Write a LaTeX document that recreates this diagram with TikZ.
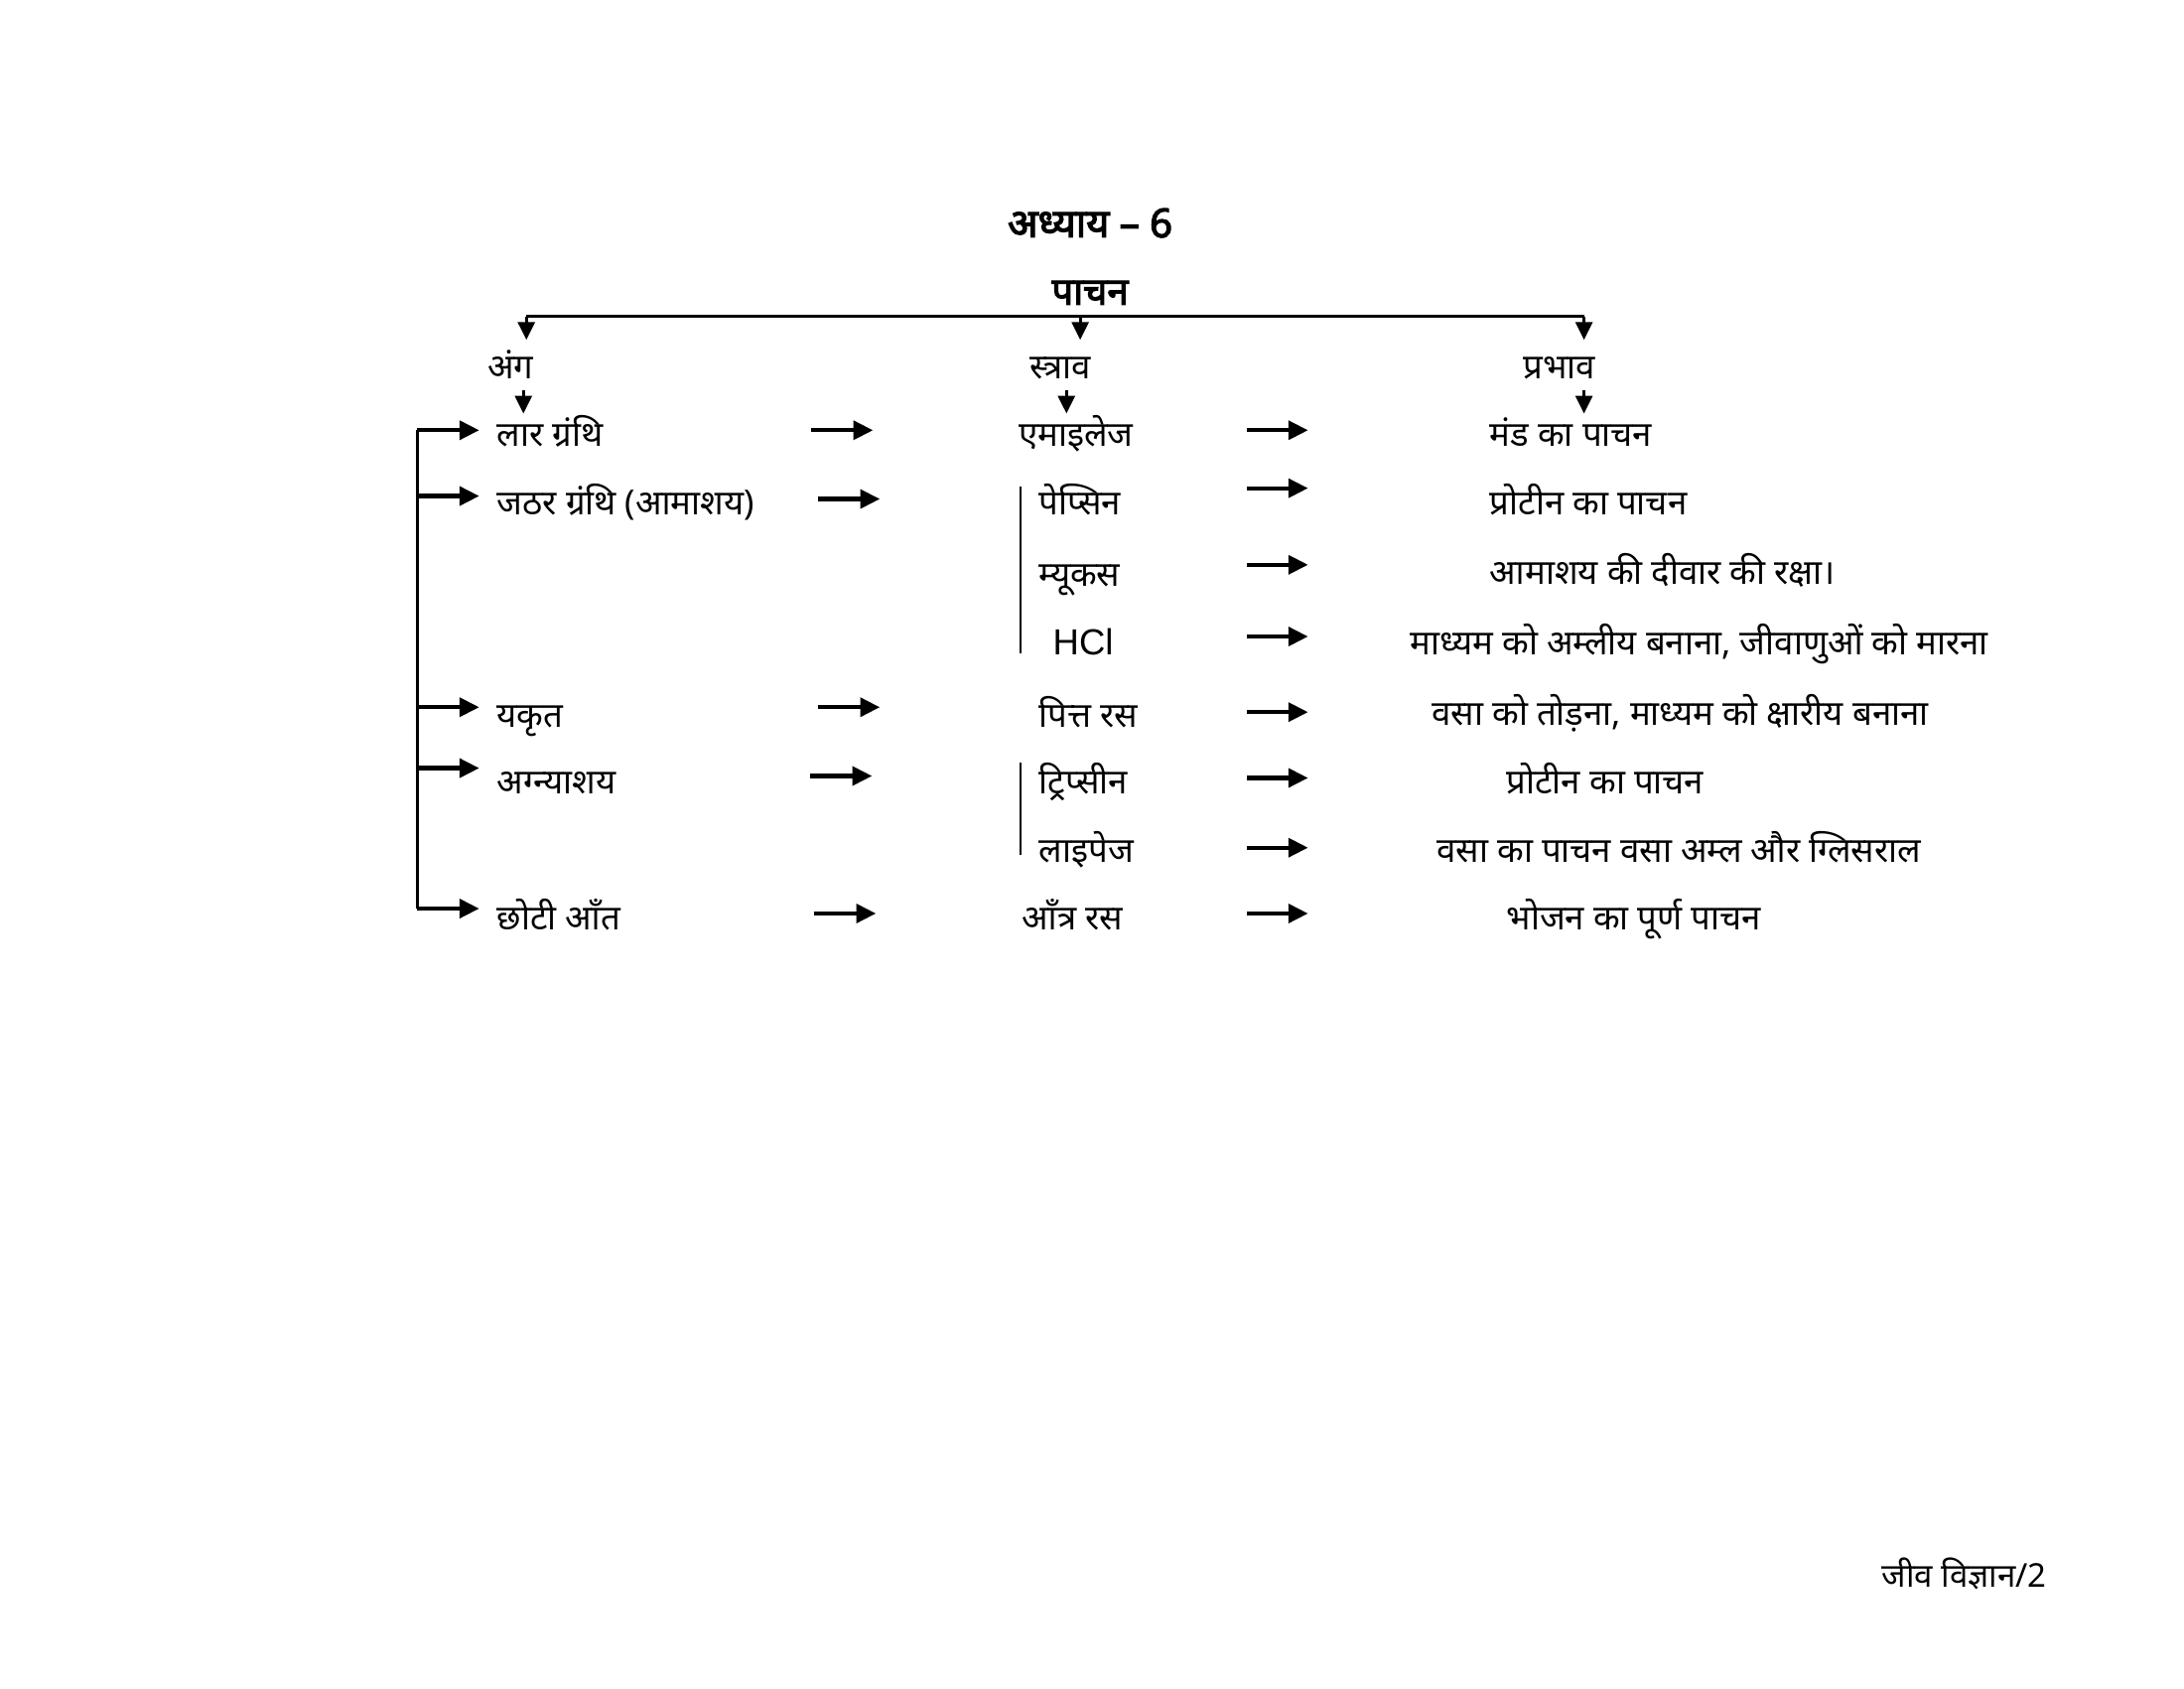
\documentclass[tikz,border=0pt]{standalone}
\usepackage{fontspec}
\setmainfont[Script=Devanagari]{Noto Sans}
\newfontfamily\latinfont{Liberation Sans}
\newfontfamily\gruesa[Script=Devanagari,FakeBold=3]{Noto Sans}
\usetikzlibrary{arrows,arrows.meta,positioning}

\tikzstyle{line} = [draw, line width=1.2pt, -{Triangle[length=2mm,width=1.9mm]}]
\tikzstyle{down} = [draw, line width=0.9pt, -{Triangle[length=1.8mm,width=1.7mm]}]
\tikzstyle{tree} = [draw, line width=0.9pt]
\tikzstyle{texto} = [font=\fontsize{10}{12}\selectfont, inner sep=1pt, anchor=west,
  text height=9pt, text depth=3pt]
\tikzstyle{cabeza} = [font=\fontsize{10}{12}\selectfont, inner sep=1pt,
  text height=9pt, text depth=3pt]
\tikzstyle{titulo} = [font=\gruesa\fontsize{11.5}{13}\selectfont, inner sep=1pt]
\tikzstyle{barra} = [draw, line width=0.7pt]
% arrow between two named coordinates: name, x start, x end, y
\newcommand{\flecha}[4]{%
  \coordinate (#1s) at (#2,#4);
  \coordinate (#1e) at (#3,#4);
  \path [line] (#1s) -- (#1e);}
% downward arrow: name, x, y start, y end
\newcommand{\baja}[4]{%
  \coordinate (#1s) at (#2,#3);
  \coordinate (#1e) at (#2,#4);
  \path [down] (#1s) -- (#1e);}

\begin{document}
\begin{tikzpicture}
\useasboundingbox (0,0) rectangle (22.24,-17.19);

% Titles
\node (t1) [titulo] at (11.10,-2.27) {अध्याय – 6};
\node (t2) [titulo, font=\gruesa\fontsize{11}{13}\selectfont] at (11.10,-2.98) {पाचन};

% Top tree
\coordinate (hl) at (5.36,-3.22);
\coordinate (hr) at (16.13,-3.22);
\path [tree] (hl) -- (hr);
\baja{d1}{5.36}{-3.22}{-3.46}
\baja{d2}{11.00}{-3.22}{-3.46}
\baja{d3}{16.13}{-3.22}{-3.46}

\node (h1) [cabeza] at (5.20,-3.75) {अंग};
\node (h2) [cabeza] at (10.80,-3.75) {स्त्राव};
\node (h3) [cabeza] at (15.88,-3.75) {प्रभाव};

\baja{e1}{5.33}{-3.97}{-4.21}
\baja{e2}{10.86}{-3.97}{-4.21}
\baja{e3}{16.13}{-3.97}{-4.21}

% Organs
\node (l1) [texto] at (5.02,-4.44) {लार ग्रंथि};
\node (l2) [texto] at (5.02,-5.14) {जठर ग्रंथि (आमाशय)};
\node (l5) [texto] at (5.02,-7.30) {यकृत};
\node (l6) [texto] at (5.02,-7.98) {अग्न्याशय};
\node (l8) [texto] at (5.02,-9.36) {छोटी आँत};

% Secretions
\node (m1) [texto] at (10.33,-4.44) {एमाइलेज};
\node (m2) [texto] at (10.54,-5.14) {पेप्सिन};
\node (m3) [texto] at (10.54,-5.86) {म्यूकस};
\node (m4) [texto, font=\latinfont\fontsize{10.5}{12}\selectfont] at (10.68,-6.56) {HCl};
\node (m5) [texto] at (10.54,-7.30) {पित्त रस};
\node (m6) [texto] at (10.54,-7.98) {ट्रिप्सीन};
\node (m7) [texto] at (10.54,-8.67) {लाइपेज};
\node (m8) [texto] at (10.37,-9.36) {आँत्र रस};

% Effects
\node (r1) [texto] at (15.13,-4.44) {मंड का पाचन};
\node (r2) [texto] at (15.13,-5.14) {प्रोटीन का पाचन};
\node (r3) [texto] at (15.13,-5.84) {आमाशय की दीवार की रक्षा।};
\node (r4) [texto] at (14.32,-6.56) {माध्यम को अम्लीय बनाना, जीवाणुओं को मारना};
\node (r5) [texto] at (14.54,-7.28) {वसा को तोड़ना, माध्यम को क्षारीय बनाना};
\node (r6) [texto] at (15.30,-7.98) {प्रोटीन का पाचन};
\node (r7) [texto] at (14.59,-8.67) {वसा का पाचन वसा अम्ल और ग्लिसराल};
\node (r8) [texto] at (15.30,-9.36) {भोजन का पूर्ण पाचन};

% Left bracket
\coordinate (bt) at (4.25,-4.38);
\coordinate (bb) at (4.25,-9.25);
\path [tree] (bt) -- (bb);
\flecha{b1}{4.25}{4.88}{-4.38}
\flecha{b2}{4.25}{4.88}{-5.05}
\flecha{b5}{4.25}{4.88}{-7.20}
\flecha{b6}{4.25}{4.88}{-7.82}
\flecha{b8}{4.25}{4.88}{-9.25}

% Organ to secretion
\flecha{a1}{8.26}{8.89}{-4.38}
\flecha{a2}{8.33}{8.96}{-5.08}
\flecha{a5}{8.33}{8.96}{-7.20}
\flecha{a6}{8.25}{8.88}{-7.90}
\flecha{a8}{8.29}{8.92}{-9.30}

% Secretion to effect
\flecha{c1}{12.70}{13.32}{-4.38}
\flecha{c2}{12.70}{13.32}{-4.97}
\flecha{c3}{12.70}{13.32}{-5.75}
\flecha{c4}{12.70}{13.32}{-6.48}
\flecha{c5}{12.70}{13.32}{-7.25}
\flecha{c6}{12.70}{13.32}{-7.92}
\flecha{c7}{12.70}{13.32}{-8.63}
\flecha{c8}{12.70}{13.32}{-9.30}

% Grouping bars
\coordinate (g1t) at (10.39,-4.95);
\coordinate (g1b) at (10.39,-6.65);
\path [barra] (g1t) -- (g1b);
\coordinate (g2t) at (10.39,-7.76);
\coordinate (g2b) at (10.39,-8.70);
\path [barra] (g2t) -- (g2b);

% Footer
\node (f1) [texto, font=\fontsize{9.5}{11}\selectfont] at (19.12,-16.05) {जीव विज्ञान/2};

\end{tikzpicture}
\end{document}
